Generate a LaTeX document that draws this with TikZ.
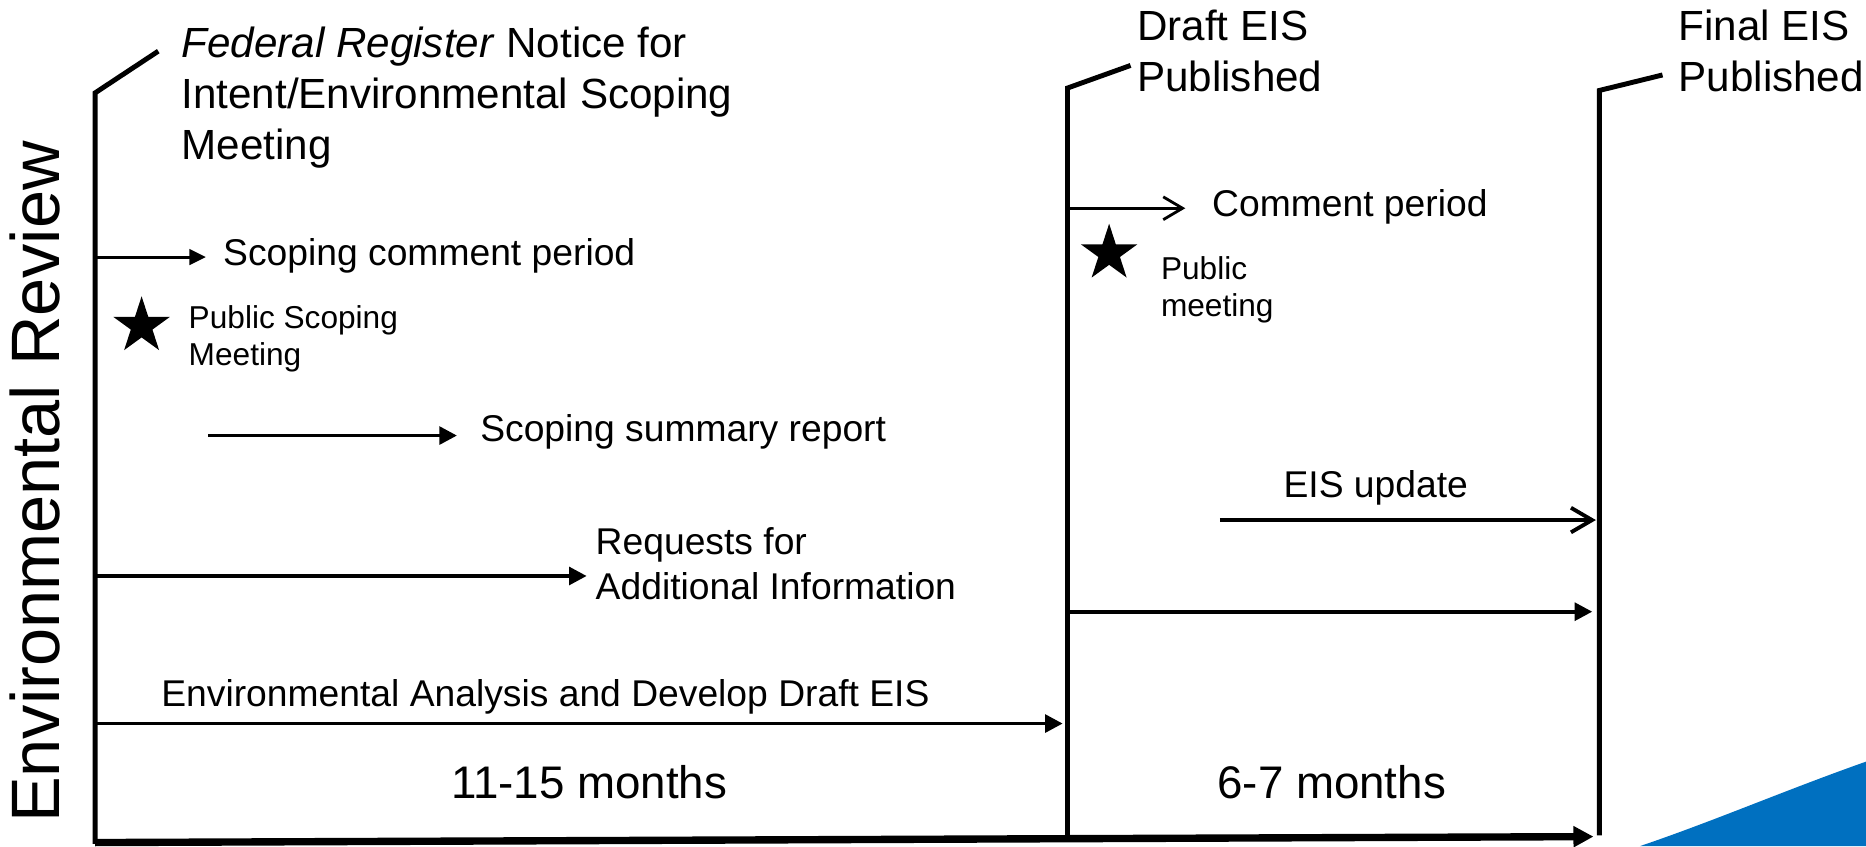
\documentclass[tikz,border=0pt]{standalone}
\usepackage{fontspec}
\setmainfont{Liberation Sans}
\usetikzlibrary{arrows.meta,shapes.geometric}
\definecolor{swooshblue}{RGB}{0,112,192}
\tikzstyle{phase}=[line width=1.4pt]
\tikzstyle{task}=[line width=1.1pt, -{Triangle[length=5pt,width=5pt]}]
\tikzstyle{smalltask}=[line width=0.85pt, -{Triangle[length=4.7pt,width=4.4pt]}]
\tikzstyle{opentask}=[line width=0.8pt, -{Straight Barb[length=5.5pt,width=6.5pt]}]
\tikzstyle{eventtext}=[anchor=base west, inner sep=0pt, align=left, font=\fontsize{10.6}{12.9}\selectfont]
\tikzstyle{milestonetext}=[anchor=base west, inner sep=0pt, align=left, font=\fontsize{12}{14.5}\selectfont]
\tikzstyle{meetingtext}=[anchor=base west, inner sep=0pt, align=left, font=\fontsize{9}{10.5}\selectfont]
\tikzstyle{durationtext}=[anchor=base, inner sep=0pt, font=\fontsize{13}{15}\selectfont]
\tikzstyle{meetingstar}=[star, star points=5, star point ratio=2.618, fill=black, draw=none, minimum size=0.595cm, inner sep=0pt]

\begin{document}
\begin{tikzpicture}[x=0.0119cm, y=-0.0119cm]
	% Background, frame
	\useasboundingbox (0,0) rectangle (1568,711);
	\fill[swooshblue] (1378,711) .. controls (1440,690) and (1500,664) .. (1568,640) -- (1568,711) -- cycle;

	% Milestones (multi-line texts sit on their last baseline)
	\foreach \name/\x/\top/\tx/\ty/\bot in {start/80/78/133/43/709, draft/897/74/950/55/705, final/1344/76/1397/63/702} {
		\coordinate (\name-top) at (\x,\top);
		\coordinate (\name-bot) at (\x,\bot);
		\draw[phase] (\tx,\ty) -- (\name-top) -- (\name-bot);
	}
	\node[rotate=90, anchor=base, inner sep=0pt, font=\fontsize{19.5}{22}\selectfont] (title) at (50,405) {Environmental Review};
	\node[milestonetext] (fednotice) at (152,134) {\textit{Federal Register} Notice for\\Intent/Environmental Scoping\\Meeting};
	\node[milestonetext] (draftpub) at (955,77) {Draft EIS\\Published};
	\node[milestonetext] (finalpub) at (1410,77) {Final EIS\\Published};

	% Time axis
	\coordinate (axis-a) at (80,708);
	\coordinate (axis-b) at (1339,703);
	\draw[line width=2.1pt, -{Triangle[length=5.7pt,width=5.7pt]}] (axis-a) -- (axis-b);

	% Scoping
	\coordinate (scope-a) at (80,216);
	\coordinate (scope-b) at (173,216);
	\draw[smalltask] (scope-a) -- (scope-b);
	\node[eventtext] (scopecmt) at (187,223) {Scoping comment period};
	\node[meetingstar] (scopestar) at (119,274) {};
	\node[meetingtext] (scopemeet) at (158,307) {Public Scoping\\Meeting};
	\coordinate (summary-a) at (175,366);
	\coordinate (summary-b) at (384,366);
	\draw[task] (summary-a) -- (summary-b);
	\node[eventtext] (summary) at (403,371) {Scoping summary report};
	\coordinate (request-a) at (80,484);
	\coordinate (request-b) at (493,484);
	\draw[task] (request-a) -- (request-b);
	\node[eventtext] (requests) at (500,504) {Requests for\\Additional Information};
	\coordinate (analysis-a) at (80,608);
	\coordinate (analysis-b) at (893,608);
	\draw[task] (analysis-a) -- (analysis-b);
	\node[eventtext] (analysis) at (135,594) {Environmental Analysis and Develop Draft EIS};
	\node[durationtext] (scopemonths) at (495,671) {11-15 months};

	% Draft EIS
	\coordinate (comment-a) at (897,175);
	\coordinate (comment-b) at (996,175);
	\draw[opentask] (comment-a) -- (comment-b);
	\node[eventtext] (draftcmt) at (1018,182) {Comment period};
	\node[meetingstar] (draftstar) at (932,213) {};
	\node[meetingtext] (draftmeet) at (975,266) {Public\\meeting};
	\coordinate (update-a) at (1025,437);
	\coordinate (update-b) at (1341,437);
	\draw[line width=1.1pt, -{Straight Barb[length=6pt,width=7pt]}] (update-a) -- (update-b);
	\node[eventtext, anchor=base] (update) at (1156,418) {EIS update};
	\coordinate (final-a) at (897,514);
	\coordinate (final-b) at (1338,514);
	\draw[task] (final-a) -- (final-b);
	\node[durationtext] (draftmonths) at (1119,671) {6-7 months};
\end{tikzpicture}
\end{document}
